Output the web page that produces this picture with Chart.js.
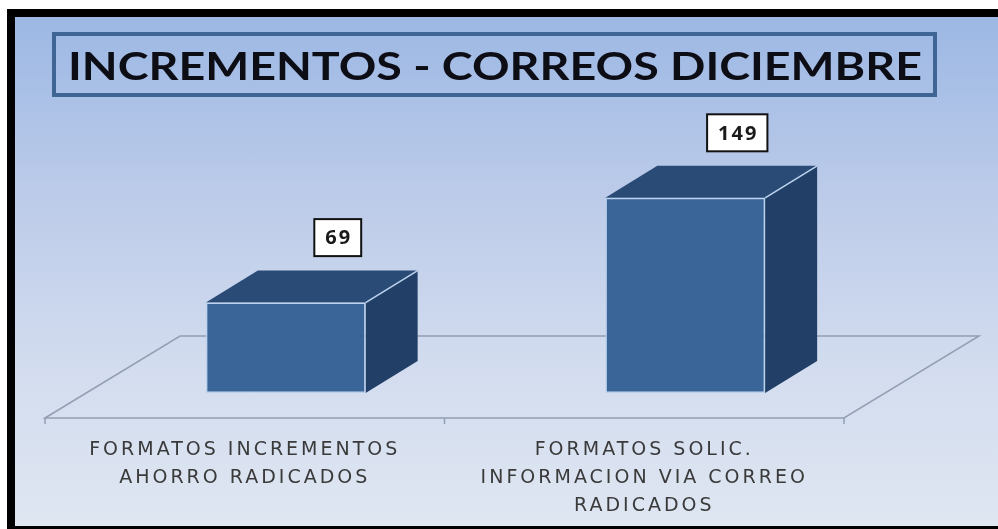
<!DOCTYPE html>
<html>
<head>
<meta charset="utf-8">
<script src="https://cdn.jsdelivr.net/npm/chart.js@4/dist/chart.umd.min.js"></script>
<style>
  html, body { margin: 0; padding: 0; background: #ffffff; }
  #wrap { position: relative; width: 998px; height: 529px; overflow: hidden; }
  #frame {
    position: absolute; left: 7px; top: 9px; right: 0; bottom: 0;
    border-left: 8px solid #000; border-top: 8px solid #000; border-bottom: 3px solid #000;
    background: linear-gradient(to bottom, #9cb8e4 0%, #bccbe9 35%, #d3ddef 70%, #dfe6f2 100%);
  }
  canvas { position: absolute; left: 0; top: 0; }
</style>
</head>
<body>
<div id="wrap">
  <div id="frame"></div>
  <canvas id="c" width="998" height="529"></canvas>
</div>
<script>
// ---- data ----
const chartTitle = "INCREMENTOS - CORREOS DICIEMBRE";
const categories = [
  ["FORMATOS INCREMENTOS", "AHORRO RADICADOS"],
  ["FORMATOS SOLIC.", "INFORMACION VIA CORREO", "RADICADOS"]
];
const values = [69, 149];
const yMin = 0;
const yMax = 200;

// ---- 3D look ----
const DEPTH_X = 52, DEPTH_Y = -32;          // bar depth offset
const FLOOR_FRONT = [-41, 25], FLOOR_BACK = [94, -57];

const threeD = {
  id: 'threeD',
  beforeDraw(chart) {
    chart.ctx.letterSpacing = '3px';
  },
  beforeDatasetsDraw(chart) {
    const ctx = chart.ctx;
    ctx.letterSpacing = '0px';
    const { left, right } = chart.chartArea;
    const y0 = chart.scales.y.getPixelForValue(0);
    ctx.save();
    // floor
    ctx.strokeStyle = '#939fb3';
    ctx.lineWidth = 1.5;
    ctx.beginPath();
    ctx.moveTo(left + FLOOR_FRONT[0], y0 + FLOOR_FRONT[1]);
    ctx.lineTo(left + FLOOR_BACK[0], y0 + FLOOR_BACK[1]);
    ctx.lineTo(right + FLOOR_BACK[0], y0 + FLOOR_BACK[1]);
    ctx.lineTo(right + FLOOR_FRONT[0], y0 + FLOOR_FRONT[1]);
    ctx.closePath();
    ctx.stroke();
    // tick marks on the front edge
    [left, (left + right) / 2, right].forEach(px => {
      ctx.beginPath();
      ctx.moveTo(px + FLOOR_FRONT[0], y0 + FLOOR_FRONT[1]);
      ctx.lineTo(px + FLOOR_FRONT[0], y0 + FLOOR_FRONT[1] + 6);
      ctx.stroke();
    });
    // top and side faces
    chart.getDatasetMeta(0).data.forEach(bar => {
      const p = bar.getProps(['x', 'y', 'base', 'width'], true);
      const l = p.x - p.width / 2, r = p.x + p.width / 2;
      ctx.fillStyle = '#2b4b77';
      ctx.beginPath();
      ctx.moveTo(l, p.y);
      ctx.lineTo(l + DEPTH_X, p.y + DEPTH_Y);
      ctx.lineTo(r + DEPTH_X, p.y + DEPTH_Y);
      ctx.lineTo(r, p.y);
      ctx.closePath();
      ctx.fill();
      ctx.fillStyle = '#223f67';
      ctx.beginPath();
      ctx.moveTo(r, p.y);
      ctx.lineTo(r + DEPTH_X, p.y + DEPTH_Y);
      ctx.lineTo(r + DEPTH_X, p.base + DEPTH_Y);
      ctx.lineTo(r, p.base);
      ctx.closePath();
      ctx.fill();
    });
    ctx.restore();
  },
  afterDatasetsDraw(chart) {
    const ctx = chart.ctx;
    ctx.save();
    const ds = chart.data.datasets[0].data;
    chart.getDatasetMeta(0).data.forEach((bar, i) => {
      const p = bar.getProps(['x', 'y', 'base', 'width'], true);
      const r = p.x + p.width / 2;
      // light edge
      ctx.strokeStyle = '#bcd3ef';
      ctx.lineWidth = 1.5;
      ctx.beginPath();
      ctx.moveTo(r, p.y);
      ctx.lineTo(r + DEPTH_X, p.y + DEPTH_Y);
      ctx.stroke();
      // value label
      const cx = p.x + DEPTH_X, cy = p.y + DEPTH_Y - 33;
      ctx.font = 'bold 20px "Open Sans"';
      ctx.letterSpacing = '2px';
      const txt = String(ds[i]);
      const tw = ctx.measureText(txt).width;
      const bw = tw + 20, bh = 37;
      ctx.fillStyle = '#ffffff';
      ctx.fillRect(cx - bw / 2, cy - bh / 2, bw, bh);
      ctx.strokeStyle = '#111111';
      ctx.lineWidth = 2;
      ctx.strokeRect(cx - bw / 2, cy - bh / 2, bw, bh);
      ctx.fillStyle = '#1a1a1a';
      ctx.textAlign = 'center';
      ctx.textBaseline = 'middle';
      ctx.fillText(txt, cx + 1, cy + 1);
      ctx.letterSpacing = '0px';
    });
    ctx.restore();
  },
  afterDraw(chart) {
    const ctx = chart.ctx;
    ctx.save();
    ctx.letterSpacing = '0px';
    // title box
    ctx.strokeStyle = '#3f6595';
    ctx.lineWidth = 4;
    ctx.strokeRect(54, 34, 881, 61);
    // title text stretched to box width
    ctx.font = 'bold 38px Lato';
    ctx.fillStyle = '#0d0d16';
    ctx.textAlign = 'center';
    ctx.textBaseline = 'alphabetic';
    const w = ctx.measureText(chartTitle).width;
    const sx = 854 / w;
    ctx.translate(495, 80);
    ctx.scale(sx, 1);
    ctx.fillText(chartTitle, 0, 0);
    ctx.restore();
  }
};

new Chart(document.getElementById('c'), {
  type: 'bar',
  data: {
    labels: categories,
    datasets: [{
      data: values,
      backgroundColor: '#3a6599',
      borderColor: '#bcd3ef',
      borderWidth: 1.5,
      borderSkipped: false,
      barPercentage: 0.4,
      categoryPercentage: 1
    }]
  },
  options: {
    responsive: false,
    animation: false,
    devicePixelRatio: 1,
    layout: { padding: { top: 131, left: 86, right: 113, bottom: -34 } },
    plugins: { legend: { display: false }, tooltip: { enabled: false }, title: { display: false } },
    scales: {
      y: { display: false, min: yMin, max: yMax },
      x: {
        grid: { display: false, drawTicks: false },
        border: { display: false },
        ticks: {
          color: '#3a3a3a',
          font: { family: '"DejaVu Sans"', size: 19, lineHeight: '28px' },
          padding: 43,
          labelOffset: -41,
          maxRotation: 0,
          autoSkip: false
        }
      }
    }
  },
  plugins: [threeD]
});
</script>
</body>
</html>
